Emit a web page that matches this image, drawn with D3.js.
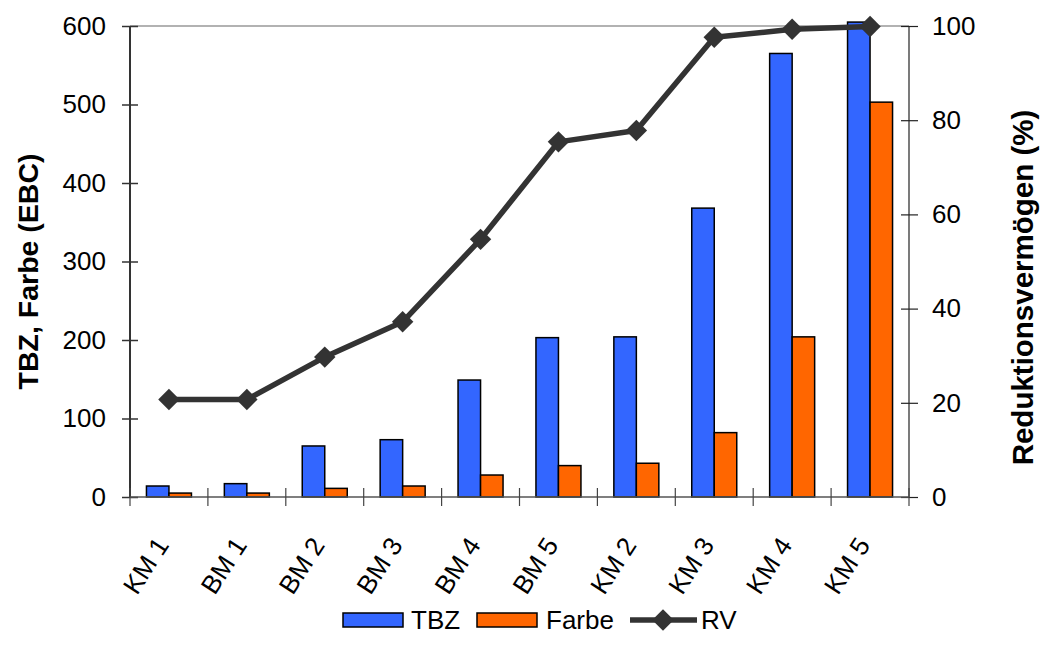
<!DOCTYPE html>
<html>
<head>
<meta charset="utf-8">
<script src="https://cdn.jsdelivr.net/npm/d3@7"></script>
<style>
  body { margin: 0; background: #fff; }
  text { font-family: "Liberation Sans", Arial, sans-serif; fill: #000; }
</style>
</head>
<body>
<div id="chart"></div>
<script>
const categories = ['KM 1', 'BM 1', 'BM 2', 'BM 3', 'BM 4', 'BM 5', 'KM 2', 'KM 3', 'KM 4', 'KM 5'];
const tbz = [14, 17, 65, 73, 149, 203, 204, 368, 565, 605];
const farbe = [5, 5, 11, 14, 28, 40, 43, 82, 204, 503];
const rv = [20.7, 20.7, 29.7, 37.2, 54.7, 75.4, 77.8, 97.6, 99.3, 99.9];
const leftTicks = [0, 100, 200, 300, 400, 500, 600];
const rightTicks = [0, 20, 40, 60, 80, 100];

const width = 1040, height = 646;
const margin = { top: 26, right: 131, bottom: 149, left: 130 };

const svg = d3.select('#chart').append('svg')
  .attr('width', width)
  .attr('height', height);

const x = d3.scaleBand()
  .domain(categories)
  .range([margin.left, width - margin.right]);

const y = d3.scaleLinear()
  .domain([0, 600])
  .range([height - margin.bottom, margin.top]);

const y2 = d3.scaleLinear()
  .domain([0, 100])
  .range([height - margin.bottom, margin.top]);

const barW = 22.5;

// top border line at 600
svg.append('line')
  .attr('x1', margin.left).attr('x2', width - margin.right)
  .attr('y1', y(600)).attr('y2', y(600))
  .attr('stroke', '#999').attr('stroke-width', 1.5);

// bars
svg.selectAll('.tbz')
  .data(tbz)
  .enter().append('rect')
  .attr('class', 'tbz')
  .attr('x', (d, i) => x(categories[i]) + x.bandwidth() / 2 - barW)
  .attr('y', d => y(d))
  .attr('width', barW)
  .attr('height', d => y(0) - y(d))
  .attr('fill', '#3366FF')
  .attr('stroke', '#000')
  .attr('stroke-width', 1.5);

svg.selectAll('.farbe')
  .data(farbe)
  .enter().append('rect')
  .attr('class', 'farbe')
  .attr('x', (d, i) => x(categories[i]) + x.bandwidth() / 2)
  .attr('y', d => y(d))
  .attr('width', barW)
  .attr('height', d => y(0) - y(d))
  .attr('fill', '#FF6600')
  .attr('stroke', '#000')
  .attr('stroke-width', 1.5);

// axes
const leftAxis = svg.append('g')
  .attr('transform', `translate(${margin.left},0)`)
  .call(d3.axisLeft(y).tickValues(leftTicks).tickSize(8));
leftAxis.select('.domain').remove();
leftAxis.selectAll('.tick line').attr('x2', 8).attr('x1', -8).attr('stroke', '#333').attr('stroke-width', 1.5);
leftAxis.selectAll('text').attr('font-size', 26).attr('x', -24).style('font-family', '"Liberation Sans", Arial, sans-serif');
svg.append('line')
  .attr('x1', margin.left).attr('x2', margin.left)
  .attr('y1', y(600)).attr('y2', y(0))
  .attr('stroke', '#333').attr('stroke-width', 2);

const rightAxis = svg.append('g')
  .attr('transform', `translate(${width - margin.right},0)`)
  .call(d3.axisRight(y2).tickValues(rightTicks).tickSize(8));
rightAxis.select('.domain').remove();
rightAxis.selectAll('.tick line').attr('x1', -8).attr('x2', 9).attr('stroke', '#222').attr('stroke-width', 1.2);
rightAxis.selectAll('text').attr('font-size', 26).attr('x', 23).style('font-family', '"Liberation Sans", Arial, sans-serif');
svg.append('line')
  .attr('x1', width - margin.right).attr('x2', width - margin.right)
  .attr('y1', y(600)).attr('y2', y(0))
  .attr('stroke', '#222').attr('stroke-width', 1.2);

// x axis
svg.append('line')
  .attr('x1', margin.left).attr('x2', width - margin.right)
  .attr('y1', y(0)).attr('y2', y(0))
  .attr('stroke', '#555').attr('stroke-width', 1.5);
const bounds = categories.map(c => x(c)).concat([width - margin.right]);
svg.selectAll('.xtick')
  .data(bounds)
  .enter().append('line')
  .attr('x1', d => d).attr('x2', d => d)
  .attr('y1', y(0) - 9).attr('y2', y(0) + 9)
  .attr('stroke', '#444').attr('stroke-width', 1.2);

svg.selectAll('.xlabel')
  .data(categories)
  .enter().append('text')
  .attr('transform', d => `translate(${x(d) + x.bandwidth() / 2 + 1},545) rotate(-57)`)
  .attr('text-anchor', 'end')
  .attr('font-size', 26)
  .text(d => d);

// RV line
const line = d3.line()
  .x((d, i) => x(categories[i]) + x.bandwidth() / 2)
  .y(d => y2(d));

svg.append('path')
  .datum(rv)
  .attr('fill', 'none')
  .attr('stroke', '#333')
  .attr('stroke-width', 5.5)
  .attr('stroke-linejoin', 'round')
  .attr('d', line);

svg.selectAll('.dot')
  .data(rv)
  .enter().append('path')
  .attr('class', 'dot')
  .attr('transform', (d, i) => `translate(${x(categories[i]) + x.bandwidth() / 2},${y2(d)}) rotate(45)`)
  .attr('d', d3.symbol().type(d3.symbolSquare).size(230))
  .attr('fill', '#333');

// axis titles
svg.append('text')
  .attr('transform', `translate(38,${(y(0) + y(600)) / 2 + 10}) rotate(-90)`)
  .attr('text-anchor', 'middle')
  .attr('font-size', 28.5)
  .attr('font-weight', 'bold')
  .text('TBZ, Farbe (EBC)');

svg.append('text')
  .attr('transform', `translate(1033,${(y(0) + y(600)) / 2 + 26}) rotate(-90)`)
  .attr('text-anchor', 'middle')
  .attr('font-size', 29.5)
  .attr('font-weight', 'bold')
  .text('Reduktionsvermögen (%)');

// legend
const legendY = 620;
const legend = svg.append('g');
legend.append('rect').attr('x', 343).attr('y', legendY - 7).attr('width', 60).attr('height', 14)
  .attr('fill', '#3366FF').attr('stroke', '#000').attr('stroke-width', 1.5);
legend.append('text').attr('x', 411).attr('y', legendY + 9).attr('font-size', 26).text('TBZ');
legend.append('rect').attr('x', 477).attr('y', legendY - 7).attr('width', 60).attr('height', 14)
  .attr('fill', '#FF6600').attr('stroke', '#000').attr('stroke-width', 1.5);
legend.append('text').attr('x', 546).attr('y', legendY + 9).attr('font-size', 26).text('Farbe');
legend.append('line').attr('x1', 630).attr('x2', 697).attr('y1', legendY).attr('y2', legendY)
  .attr('stroke', '#333').attr('stroke-width', 5.5);
legend.append('path')
  .attr('transform', `translate(663,${legendY}) rotate(45)`)
  .attr('d', d3.symbol().type(d3.symbolSquare).size(230))
  .attr('fill', '#333');
legend.append('text').attr('x', 701).attr('y', legendY + 9).attr('font-size', 26).text('RV');
</script>
</body>
</html>
